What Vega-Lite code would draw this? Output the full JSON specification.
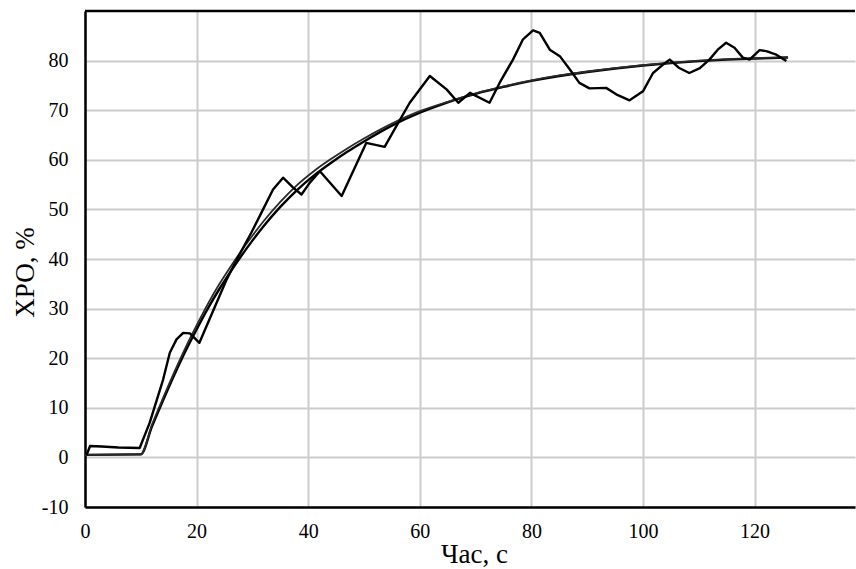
{
  "$schema": "https://vega.github.io/schema/vega-lite/v6.json",
  "width": 770,
  "height": 496,
  "autosize": {"type": "none"},
  "padding": {"left": 85, "top": 11, "right": 1, "bottom": 62},
  "background": "white",
  "config": {
    "view": {"stroke": null},
    "font": "Liberation Serif",
    "axis": {
      "labelFont": "Liberation Serif",
      "titleFont": "Liberation Serif",
      "labelColor": "black",
      "titleColor": "black",
      "labelFontSize": 20,
      "titleFontSize": 27,
      "titleFontWeight": "normal",
      "domainColor": "black",
      "domainWidth": 2.5,
      "gridColor": "#cccccc",
      "gridWidth": 2,
      "ticks": false,
      "tickSize": 0,
      "labelFlush": false,
      "labelExpr": "toString(datum.value)"
    }
  },
  "datasets": {
    "curves": [
      {"t": 0.3, "v": 0.5, "s": "raw"},
      {"t": 0.9, "v": 2.3, "s": "raw"},
      {"t": 3, "v": 2.2, "s": "raw"},
      {"t": 6, "v": 2.0, "s": "raw"},
      {"t": 9.8, "v": 1.9, "s": "raw"},
      {"t": 11.6, "v": 7.0, "s": "raw"},
      {"t": 14.0, "v": 15.7, "s": "raw"},
      {"t": 15.2, "v": 21.1, "s": "raw"},
      {"t": 16.4, "v": 23.8, "s": "raw"},
      {"t": 17.6, "v": 25.1, "s": "raw"},
      {"t": 18.8, "v": 25.0, "s": "raw"},
      {"t": 20.5, "v": 23.1, "s": "raw"},
      {"t": 25.4, "v": 35.9, "s": "raw"},
      {"t": 27.2, "v": 39.9, "s": "raw"},
      {"t": 29.8, "v": 45.3, "s": "raw"},
      {"t": 31.6, "v": 49.3, "s": "raw"},
      {"t": 33.7, "v": 54.0, "s": "raw"},
      {"t": 35.5, "v": 56.4, "s": "raw"},
      {"t": 37.3, "v": 54.4, "s": "raw"},
      {"t": 38.8, "v": 53.0, "s": "raw"},
      {"t": 40.3, "v": 55.4, "s": "raw"},
      {"t": 42.1, "v": 57.7, "s": "raw"},
      {"t": 46.0, "v": 52.7, "s": "raw"},
      {"t": 50.4, "v": 63.4, "s": "raw"},
      {"t": 53.7, "v": 62.6, "s": "raw"},
      {"t": 55.8, "v": 66.8, "s": "raw"},
      {"t": 58.2, "v": 71.5, "s": "raw"},
      {"t": 61.8, "v": 76.9, "s": "raw"},
      {"t": 64.8, "v": 74.2, "s": "raw"},
      {"t": 66.9, "v": 71.5, "s": "raw"},
      {"t": 69.0, "v": 73.5, "s": "raw"},
      {"t": 72.5, "v": 71.5, "s": "raw"},
      {"t": 74.3, "v": 75.5, "s": "raw"},
      {"t": 76.7, "v": 80.2, "s": "raw"},
      {"t": 78.5, "v": 84.3, "s": "raw"},
      {"t": 80.3, "v": 86.1, "s": "raw"},
      {"t": 81.5, "v": 85.6, "s": "raw"},
      {"t": 83.3, "v": 82.2, "s": "raw"},
      {"t": 85.1, "v": 80.9, "s": "raw"},
      {"t": 86.9, "v": 78.2, "s": "raw"},
      {"t": 88.6, "v": 75.5, "s": "raw"},
      {"t": 90.4, "v": 74.4, "s": "raw"},
      {"t": 93.4, "v": 74.5, "s": "raw"},
      {"t": 95.2, "v": 73.2, "s": "raw"},
      {"t": 97.6, "v": 72.0, "s": "raw"},
      {"t": 100.0, "v": 73.8, "s": "raw"},
      {"t": 101.8, "v": 77.5, "s": "raw"},
      {"t": 103.6, "v": 79.2, "s": "raw"},
      {"t": 104.8, "v": 80.2, "s": "raw"},
      {"t": 106.5, "v": 78.5, "s": "raw"},
      {"t": 108.3, "v": 77.5, "s": "raw"},
      {"t": 110.2, "v": 78.5, "s": "raw"},
      {"t": 111.9, "v": 80.2, "s": "raw"},
      {"t": 113.4, "v": 82.2, "s": "raw"},
      {"t": 114.9, "v": 83.6, "s": "raw"},
      {"t": 116.4, "v": 82.6, "s": "raw"},
      {"t": 117.9, "v": 80.6, "s": "raw"},
      {"t": 119.1, "v": 80.2, "s": "raw"},
      {"t": 120.9, "v": 82.1, "s": "raw"},
      {"t": 122.1, "v": 81.9, "s": "raw"},
      {"t": 123.9, "v": 81.2, "s": "raw"},
      {"t": 125.7, "v": 79.9, "s": "raw"},

      {"t": 0, "v": 0.5, "s": "fitA"},
      {"t": 10, "v": 0.6, "s": "fitA"},
      {"t": 12, "v": 6.2, "s": "fitA"},
      {"t": 14, "v": 11.5, "s": "fitA"},
      {"t": 16, "v": 16.6, "s": "fitA"},
      {"t": 18, "v": 21.4, "s": "fitA"},
      {"t": 20, "v": 25.8, "s": "fitA"},
      {"t": 22, "v": 30.0, "s": "fitA"},
      {"t": 24, "v": 33.8, "s": "fitA"},
      {"t": 26, "v": 37.3, "s": "fitA"},
      {"t": 28, "v": 40.6, "s": "fitA"},
      {"t": 30, "v": 43.7, "s": "fitA"},
      {"t": 32, "v": 46.6, "s": "fitA"},
      {"t": 35, "v": 50.5, "s": "fitA"},
      {"t": 38, "v": 53.9, "s": "fitA"},
      {"t": 41, "v": 56.8, "s": "fitA"},
      {"t": 44, "v": 59.3, "s": "fitA"},
      {"t": 47, "v": 61.6, "s": "fitA"},
      {"t": 50, "v": 63.7, "s": "fitA"},
      {"t": 55, "v": 66.9, "s": "fitA"},
      {"t": 60, "v": 69.5, "s": "fitA"},
      {"t": 65, "v": 71.6, "s": "fitA"},
      {"t": 70, "v": 73.3, "s": "fitA"},
      {"t": 75, "v": 74.7, "s": "fitA"},
      {"t": 80, "v": 75.9, "s": "fitA"},
      {"t": 85, "v": 76.9, "s": "fitA"},
      {"t": 90, "v": 77.7, "s": "fitA"},
      {"t": 95, "v": 78.4, "s": "fitA"},
      {"t": 100, "v": 79.0, "s": "fitA"},
      {"t": 105, "v": 79.5, "s": "fitA"},
      {"t": 110, "v": 79.9, "s": "fitA"},
      {"t": 115, "v": 80.2, "s": "fitA"},
      {"t": 120, "v": 80.4, "s": "fitA"},
      {"t": 126, "v": 80.6, "s": "fitA"},

      {"t": 0, "v": 0.5, "s": "fitB"},
      {"t": 10, "v": 0.6, "s": "fitB"},
      {"t": 12, "v": 6.6, "s": "fitB"},
      {"t": 14, "v": 12.0, "s": "fitB"},
      {"t": 16, "v": 17.2, "s": "fitB"},
      {"t": 18, "v": 22.1, "s": "fitB"},
      {"t": 20, "v": 26.6, "s": "fitB"},
      {"t": 22, "v": 30.9, "s": "fitB"},
      {"t": 24, "v": 34.8, "s": "fitB"},
      {"t": 26, "v": 38.3, "s": "fitB"},
      {"t": 28, "v": 41.6, "s": "fitB"},
      {"t": 30, "v": 44.7, "s": "fitB"},
      {"t": 32, "v": 47.6, "s": "fitB"},
      {"t": 35, "v": 51.5, "s": "fitB"},
      {"t": 38, "v": 54.9, "s": "fitB"},
      {"t": 41, "v": 57.7, "s": "fitB"},
      {"t": 44, "v": 60.1, "s": "fitB"},
      {"t": 47, "v": 62.3, "s": "fitB"},
      {"t": 50, "v": 64.3, "s": "fitB"},
      {"t": 55, "v": 67.3, "s": "fitB"},
      {"t": 60, "v": 69.8, "s": "fitB"},
      {"t": 65, "v": 71.7, "s": "fitB"},
      {"t": 70, "v": 73.4, "s": "fitB"},
      {"t": 75, "v": 74.8, "s": "fitB"},
      {"t": 80, "v": 76.0, "s": "fitB"},
      {"t": 85, "v": 77.0, "s": "fitB"},
      {"t": 90, "v": 77.8, "s": "fitB"},
      {"t": 95, "v": 78.5, "s": "fitB"},
      {"t": 100, "v": 79.1, "s": "fitB"},
      {"t": 105, "v": 79.6, "s": "fitB"},
      {"t": 110, "v": 80.0, "s": "fitB"},
      {"t": 115, "v": 80.3, "s": "fitB"},
      {"t": 120, "v": 80.5, "s": "fitB"},
      {"t": 126, "v": 80.7, "s": "fitB"}
    ]
  },
  "layer": [
    {
      "data": {"name": "curves"},
      "transform": [{"filter": "datum.s === 'fitA'"}],
      "mark": {"type": "line", "color": "black", "strokeWidth": 2.4, "interpolate": "monotone", "clip": true},
      "encoding": {
        "x": {
          "field": "t", "type": "quantitative",
          "scale": {"domain": [0, 138], "nice": false, "zero": false},
          "axis": {
            "values": [0, 20, 40, 60, 80, 100, 120],
            "title": "Час, с",
            "labelPadding": 30,
            "labelBaseline": "alphabetic",
            "titleX": 389,
            "titleY": 55,
            "titleBaseline": "alphabetic",
            "titleAnchor": null
          }
        },
        "y": {
          "field": "v", "type": "quantitative",
          "scale": {"domain": [-10, 90], "nice": false, "zero": false},
          "axis": {
            "values": [-10, 0, 10, 20, 30, 40, 50, 60, 70, 80],
            "title": "ХРО, %",
            "labelPadding": 17,
            "titleAngle": -90,
            "titleX": -52,
            "titleY": 261,
            "titleBaseline": "alphabetic",
            "titleAlign": "center"
          }
        }
      }
    },
    {
      "data": {"name": "curves"},
      "transform": [{"filter": "datum.s === 'fitB'"}],
      "mark": {"type": "line", "color": "#2a2a2a", "strokeWidth": 1.8, "interpolate": "monotone", "clip": true},
      "encoding": {
        "x": {"field": "t", "type": "quantitative"},
        "y": {"field": "v", "type": "quantitative"}
      }
    },
    {
      "data": {"name": "curves"},
      "transform": [{"filter": "datum.s === 'raw'"}],
      "mark": {"type": "line", "color": "black", "strokeWidth": 2.4, "interpolate": "linear", "strokeJoin": "round", "clip": true},
      "encoding": {
        "x": {"field": "t", "type": "quantitative"},
        "y": {"field": "v", "type": "quantitative"}
      }
    },
    {
      "data": {"values": [{}]},
      "mark": {"type": "rule", "color": "black", "strokeWidth": 2.5},
      "encoding": {"y": {"datum": 90}}
    }
  ]
}
